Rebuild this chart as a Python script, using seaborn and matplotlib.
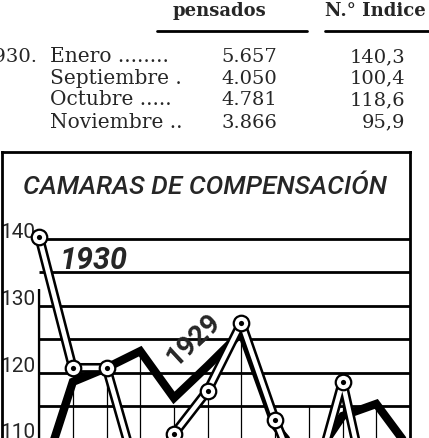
import numpy as np
import pandas as pd
import seaborn as sns
import matplotlib.pyplot as plt
from matplotlib.lines import Line2D

# tabla de la parte superior
filas_mes = ['Enero ........', 'Septiembre .', 'Octubre .....', 'Noviembre ..']
compensados = ['5.657', '4.050', '4.781', '3.866']
indices = ['140,3', '100,4', '118,6', '95,9']

# grafico: numeros indice mensuales
meses = ['Ene', 'Feb', 'Mar', 'Abr', 'May', 'Jun', 'Jul', 'Ago', 'Sep', 'Oct', 'Nov', 'Dic']
idx_1929 = [103, 118.6, 120.7, 123.2, 116.2, 121, 126, 112, 106, 113.5, 115.3, 108.5]
idx_1930 = [140.3, 120.7, 120.7, 103, 110.8, 117.3, 127.4, 112.9, 100.4, 118.6, 95.9]
etiquetas_y = [140, 130, 120, 110]
lineas_y = [140, 135, 130, 125, 120, 115, 110, 105, 100, 95]

W, H = 429, 439
NARROW = ['Roboto', 'DejaVu Sans']

sns.set_style('white')
plt.rcParams['font.family'] = ['DejaVu Serif']

fig = plt.figure(figsize=(W / 100, H / 100), dpi=100)


def fx(px):
    return px / W


def fy(py):
    return 1 - py / H


# --- table header / rows ---
fig.text(fx(173), fy(16), 'pensados', fontsize=13, weight='bold', ha='left', va='baseline')
fig.text(fx(325), fy(16), 'N.° Indice', fontsize=13, weight='bold', ha='left', va='baseline')
fig.add_artist(Line2D([fx(157), fx(307)], [fy(32), fy(32)], color='black', lw=2))
fig.add_artist(Line2D([fx(325), fx(429)], [fy(32), fy(32)], color='black', lw=2))

baselines = [62, 83.5, 105, 127.5]
fig.text(fx(38), fy(baselines[0]), '1930.', fontsize=14, ha='right', va='baseline')
for b, mes, comp, ind in zip(baselines, filas_mes, compensados, indices):
    fig.text(fx(50), fy(b), mes, fontsize=14.5, ha='left', va='baseline')
    fig.text(fx(277), fy(b), comp, fontsize=14, ha='right', va='baseline')
    fig.text(fx(405), fy(b), ind, fontsize=14, ha='right', va='baseline')

# --- chart box (runs off the bottom of the clipping) ---
ymin, ymax = 90, 153.0
top_px, bot_px = 153, 574
ax = fig.add_axes([fx(2), fy(bot_px), 408 / W, (bot_px - top_px) / H])
ax.set_xlim(-1.10, 11)
ax.set_ylim(ymin, ymax)
ax.set_xticks([])
ax.set_yticks([])
for s in ax.spines.values():
    s.set_color('black')
    s.set_linewidth(2)

x = np.arange(len(meses))
ax.hlines(lineas_y, 0, 11, color='black', lw=2, zorder=1)
# the hand-drawn verticals stop at different heights
topes_v = [132.5, 120, 120, 123.5, 115, 116, 125, 115, 115, 115, 115]
ax.vlines(x[:11], ymin, topes_v, color='black', lw=0.9, zorder=1)
ax.vlines(0, ymin, topes_v[0], color='black', lw=1.6, zorder=1)

for v in etiquetas_y:
    ax.text(-0.1, v + 0.3, str(v), ha='right', va='baseline', fontsize=15,
            family=NARROW, zorder=2)

df29 = pd.DataFrame({'mes': x, 'indice': idx_1929})
df30 = pd.DataFrame({'mes': x[:len(idx_1930)], 'indice': idx_1930})

sns.lineplot(data=df29, x='mes', y='indice', ax=ax, color='black', lw=6,
             solid_joinstyle='miter', legend=False, zorder=3)
sns.lineplot(data=df30, x='mes', y='indice', ax=ax, color='black', lw=7,
             solid_joinstyle='round', legend=False, zorder=4)
sns.lineplot(data=df30, x='mes', y='indice', ax=ax, color='white', lw=3.3,
             solid_joinstyle='round', legend=False, zorder=5)
sns.scatterplot(data=df30, x='mes', y='indice', ax=ax, s=125, color='white',
                edgecolor='black', linewidth=1.6, legend=False, zorder=6)
sns.scatterplot(data=df30, x='mes', y='indice', ax=ax, s=14, color='black',
                edgecolor='black', linewidth=0, legend=False, zorder=7)
ax.set_xlabel('')
ax.set_ylabel('')

ax.text(4.93, 147.9, 'CAMARAS DE COMPENSACIÓN', ha='center', va='center',
        fontsize=19, style='italic', weight='medium', family=NARROW)
ax.text(0.62, 135.6, '1930', ha='left', va='baseline', fontsize=22,
        style='italic', weight='bold', family=NARROW)
ax.text(4.6, 125.1, '1929', ha='center', va='center', fontsize=20,
        rotation=43, weight='bold', family=NARROW, zorder=8)

fig.savefig('out.png', dpi=100)
